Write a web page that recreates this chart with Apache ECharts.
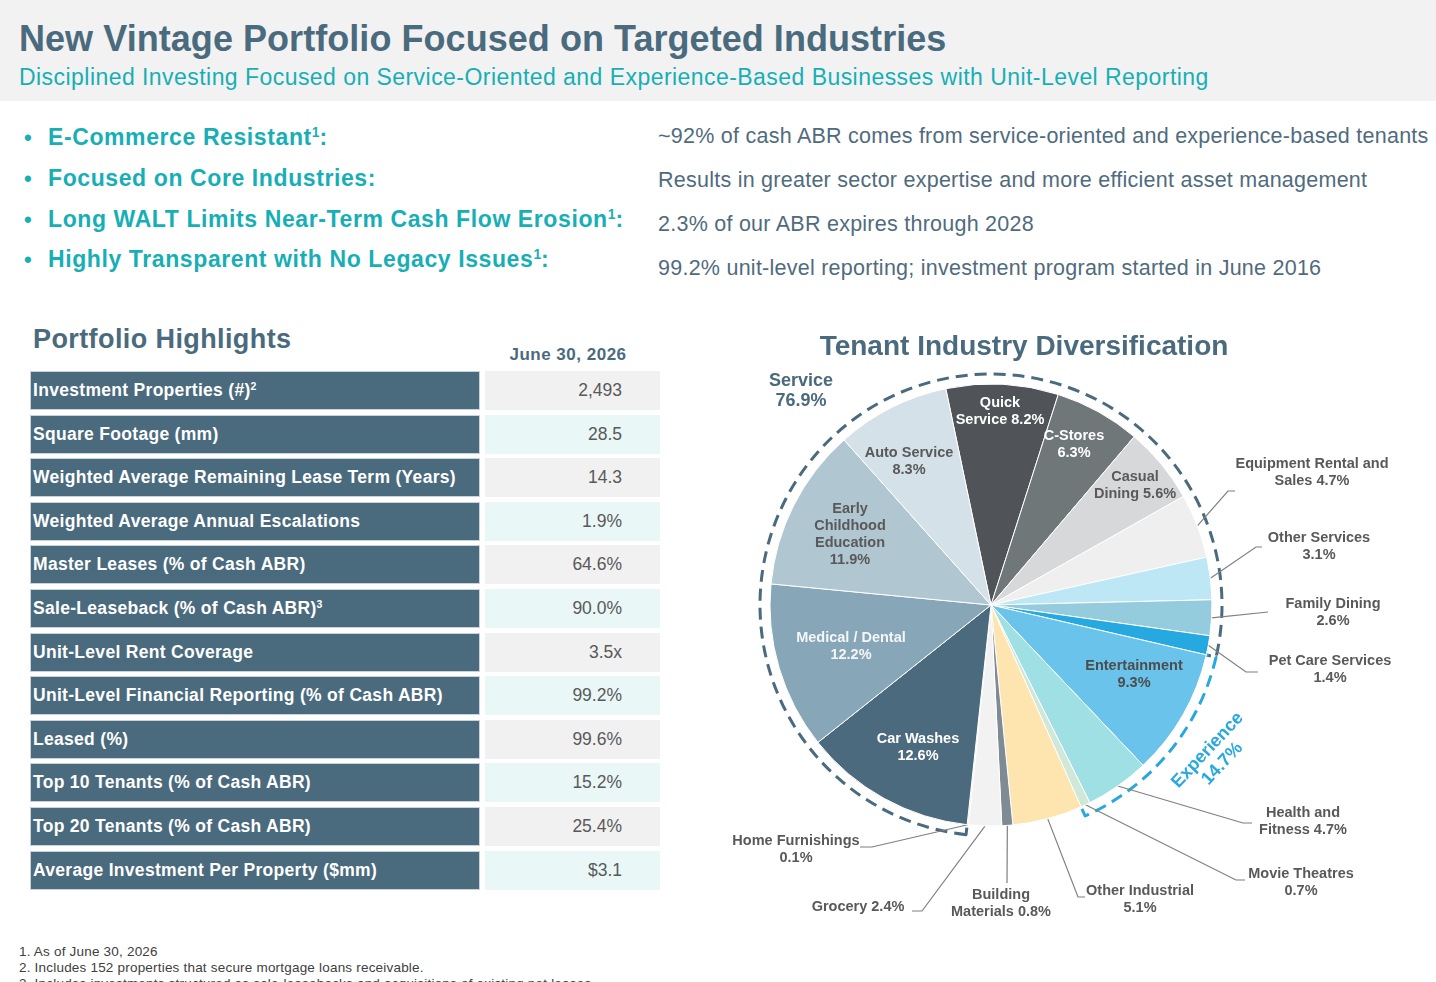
<!DOCTYPE html>
<html>
<head>
<meta charset="utf-8">
<script src="https://cdn.jsdelivr.net/npm/echarts@6/dist/echarts.min.js"></script>
<style>
  body { margin:0; width:1436px; height:982px; overflow:hidden; position:relative; background:#fff;
         font-family:"Liberation Sans", Arial, sans-serif; }
  .t { position:absolute; white-space:nowrap; line-height:1.15; }
  sup { font-size:0.6em; vertical-align:0.6em; line-height:0; letter-spacing:0; }
  #header { position:absolute; left:0; top:0; width:1436px; height:101px; background:#f2f2f2; }
  .cellL { position:absolute; left:30px; width:448px; height:37px; background:#4a6a7e; border:1px solid #c9d3d9; }
  .cellV { position:absolute; left:485px; width:175px; height:39px; }
  #chart { position:absolute; left:690px; top:310px; width:746px; height:640px; }
</style>
</head>
<body>
<div id="header"></div>
<div id="chart"></div>
<script>
// ---- texto do slide ----
const pageTitle = 'New Vintage Portfolio Focused on Targeted Industries';
const pageSubtitle = 'Disciplined Investing Focused on Service-Oriented and Experience-Based Businesses with Unit-Level Reporting';
const bulletHeads = ['E-Commerce Resistant<sup>1</sup>:', 'Focused on Core Industries:',
  'Long WALT Limits Near-Term Cash Flow Erosion<sup>1</sup>:', 'Highly Transparent with No Legacy Issues<sup>1</sup>:'];
const bulletTexts = ['~92% of cash ABR comes from service-oriented and experience-based tenants',
  'Results in greater sector expertise and more efficient asset management',
  '2.3% of our ABR expires through 2028',
  '99.2% unit-level reporting; investment program started in June 2016'];

// ---- tabela Portfolio Highlights ----
const highlightLabels = ['Investment Properties (#)<sup>2</sup>', 'Square Footage (mm)',
  'Weighted Average Remaining Lease Term (Years)', 'Weighted Average Annual Escalations',
  'Master Leases (% of Cash ABR)', 'Sale-Leaseback (% of Cash ABR)<sup>3</sup>', 'Unit-Level Rent Coverage',
  'Unit-Level Financial Reporting (% of Cash ABR)', 'Leased (%)', 'Top 10 Tenants (% of Cash ABR)',
  'Top 20 Tenants (% of Cash ABR)', 'Average Investment Per Property ($mm)'];
const highlightValues = ['2,493', '28.5', '14.3', '1.9%', '64.6%', '90.0%', '3.5x', '99.2%', '99.6%', '15.2%', '25.4%', '$3.1'];
const footnotes = ['1. As of June 30, 2026', '2. Includes 152 properties that secure mortgage loans receivable.',
  '3. Includes investments structured as sale-leasebacks and acquisitions of existing net leases.'];

// ---- pizza: setores em sentido horário a partir de Quick Service ----
const categories = ['Quick Service', 'C-Stores', 'Casual Dining', 'Equipment Rental and Sales', 'Other Services',
  'Family Dining', 'Pet Care Services', 'Entertainment', 'Health and Fitness', 'Movie Theatres',
  'Other Industrial', 'Building Materials', 'Grocery', 'Home Furnishings', 'Car Washes',
  'Medical / Dental', 'Early Childhood Education', 'Auto Service'];
const shares = [8.2, 6.3, 5.6, 4.7, 3.1, 2.6, 1.4, 9.3, 4.7, 0.7, 5.1, 0.8, 2.4, 0.1, 12.6, 12.2, 11.9, 8.3];
const sliceGroup = ['Service', 'Service', 'Service', 'Service', 'Service', 'Service', 'Service',
  'Experience', 'Experience', 'Experience', 'Other', 'Other', 'Other', 'Other',
  'Service', 'Service', 'Service', 'Service'];
// nome exibido (com quebra de linha) antes do valor
const labelNames = ['Quick\nService ', 'C-Stores\n', 'Casual\nDining ', 'Equipment Rental and\nSales ',
  'Other Services\n', 'Family Dining\n', 'Pet Care Services\n', 'Entertainment\n', 'Health and\nFitness ',
  'Movie Theatres\n', 'Other Industrial\n', 'Building\nMaterials ', 'Grocery ', 'Home Furnishings\n',
  'Car Washes\n', 'Medical / Dental\n', 'Early\nChildhood\nEducation\n', 'Auto Service\n'];

// cores
const sliceColors = ['#505358', '#6f7778', '#d7d8da', '#efefef', '#bee7f6', '#95ccdd', '#25a9e0', '#6ac3ea',
  '#9fe0e4', '#cfe8d8', '#fee4ae', '#7e8b94', '#f2f2f2', '#dde3e7', '#4b6a7e', '#87a6b7', '#b0c6d1', '#d4e1e8'];
const labelColors = ['#ffffff', '#ffffff', '#595959', '#595959', '#595959', '#595959', '#595959', '#4d4d4d',
  '#595959', '#595959', '#595959', '#595959', '#595959', '#595959', '#ffffff', '#f4f6f8', '#595959', '#595959'];
const groupColors = { Service: '#4a6a7e', Experience: '#29a8e0', Other: 'rgba(0,0,0,0)' };

const SLATE = '#4a6a7e', TEAL = '#17afb5';

// ---- posições (coordenadas da página) ----
const labelPos = {
  'Quick Service': [1000, 411], 'C-Stores': [1074, 444], 'Casual Dining': [1135, 485],
  'Equipment Rental and Sales': [1312, 472], 'Other Services': [1319, 546], 'Family Dining': [1333, 612],
  'Pet Care Services': [1330, 669], 'Entertainment': [1134, 674], 'Health and Fitness': [1303, 821],
  'Movie Theatres': [1301, 882], 'Other Industrial': [1140, 899], 'Building Materials': [1001, 903],
  'Grocery': [858, 907], 'Home Furnishings': [796, 849], 'Car Washes': [918, 747],
  'Medical / Dental': [851, 646], 'Early Childhood Education': [850, 534], 'Auto Service': [909, 461],
  'Service': [801, 391], 'Experience': [1215, 757]
};
// cotovelo e fim da linha guia
const leaderPts = {
  'Equipment Rental and Sales': [1228, 491, 1235, 491], 'Other Services': [1256, 547, 1262, 547],
  'Family Dining': [1268, 612, 1268, 612], 'Pet Care Services': [1246, 672, 1258, 672],
  'Health and Fitness': [1243, 823, 1252, 823], 'Movie Theatres': [1236, 880, 1245, 880],
  'Other Industrial': [1078, 897, 1085, 897], 'Building Materials': [1007, 883, 1007, 883],
  'Grocery': [922, 911, 912, 911], 'Home Furnishings': [872, 847, 860, 847]
};

// ==================== parte HTML ====================
function put(html, x, base, fs, css) {
  const d = document.createElement('div');
  d.className = 't';
  d.innerHTML = html;
  if (x != null) d.style.left = x + 'px';
  d.style.top = (base - 0.92 * fs) + 'px';
  d.style.fontSize = fs + 'px';
  if (css) Object.assign(d.style, css);
  document.body.appendChild(d);
  return d;
}

put(pageTitle, 19, 51, 36, { color: SLATE, fontWeight: 'bold', letterSpacing: '0.05px' });
put(pageSubtitle, 19, 85, 23, { color: TEAL, letterSpacing: '0.45px' });

const bulletBase = [145, 186, 227, 267];
const textBase = [144, 188, 232, 276];
bulletHeads.forEach((h, i) => {
  put('&bull;', 24, bulletBase[i], 22, { color: TEAL, fontWeight: 'bold' });
  put(h, 48, bulletBase[i], 23, { color: TEAL, fontWeight: 'bold', letterSpacing: '0.6px' });
  put(bulletTexts[i], 658, textBase[i], 21.5, { color: '#506b7e', letterSpacing: '0.25px' });
});

put('Portfolio Highlights', 33, 349, 27, { color: SLATE, fontWeight: 'bold', letterSpacing: '0.4px' });
put('June 30, 2026', 568, 361, 17, { color: SLATE, fontWeight: 'bold', letterSpacing: '0.5px', transform: 'translateX(-50%)' });

highlightLabels.forEach((lab, i) => {
  const top = 371 + 43.6 * i;
  const l = document.createElement('div');
  l.className = 'cellL'; l.style.top = top + 'px';
  document.body.appendChild(l);
  const v = document.createElement('div');
  v.className = 'cellV'; v.style.top = top + 'px';
  v.style.background = i % 2 === 0 ? '#f1f1f1' : '#eaf7f7';
  document.body.appendChild(v);
  put(lab, 33, top + 25, 17.5, { color: '#ffffff', fontWeight: 'bold', letterSpacing: '0.3px' });
  put(highlightValues[i], null, top + 25, 17.5, { color: '#595959', right: (1436 - 622) + 'px' });
});

footnotes.forEach((f, i) => put(f, 19, 956 + 16 * i, 13.5, { color: '#404040', letterSpacing: '0.2px' }));

// ==================== gráfico ====================
const OX = 690, OY = 310;
const CX = 991 - OX, CY = 605 - OY, R = 221, RING = 231;
const START = 101.8;
const total = shares.reduce((a, b) => a + b, 0);
const cumBefore = shares.map((v, i) => shares.slice(0, i).reduce((a, b) => a + b, 0));

function midAngle(i) {
  return START - (cumBefore[i] + shares[i] / 2) / total * 360;
}

// anel tracejado por grupo, começando no primeiro setor do grupo Service após a volta
const ringStartIdx = categories.indexOf('Car Washes');
const ringData = [];
for (let k = 0; k < shares.length; k++) {
  const idx = (ringStartIdx + k) % shares.length;
  const g = sliceGroup[idx];
  const last = ringData[ringData.length - 1];
  if (last && last.name === g) last.value += shares[idx];
  else ringData.push({ name: g, value: shares[idx] });
}
const ringStart = START - cumBefore[ringStartIdx] / total * 360;

const chart = echarts.init(document.getElementById('chart'));
const font = '"Liberation Sans", Arial, sans-serif';

chart.setOption({
  title: {
    text: 'Tenant Industry Diversification',
    left: 1024 - OX - 5, top: 18, textAlign: 'center',
    textStyle: { fontSize: 28, fontWeight: 'bold', color: SLATE, fontFamily: font }
  },
  series: [
    {
      type: 'pie', silent: true, z: 1,
      center: [CX, CY], radius: [150, RING],
      startAngle: ((ringStart % 360) + 360) % 360, clockwise: true,
      avoidLabelOverlap: false,
      data: ringData.map(d => ({
        name: d.name, value: d.value,
        itemStyle: { color: 'rgba(0,0,0,0)', borderColor: groupColors[d.name], borderWidth: 3, borderType: [12, 7] },
        label: {
          show: d.name !== 'Other',
          color: groupColors[d.name],
          rotate: d.name === 'Experience' ? 47 : 0,
          fontSize: 18
        }
      })),
      label: {
        position: 'outside', fontFamily: font, fontWeight: 'bold', lineHeight: 20,
        formatter: p => p.name + '\n' + p.value.toFixed(1) + '%'
      },
      labelLine: { show: false },
      labelLayout: p => {
        const pos = labelPos[ringData[p.dataIndex].name];
        if (!pos) return {};
        return { x: pos[0] - OX, y: pos[1] - OY, align: 'center', verticalAlign: 'middle' };
      }
    },
    {
      type: 'pie', silent: true, z: 2,
      center: [CX, CY], radius: [0, R],
      startAngle: START, clockwise: true,
      avoidLabelOverlap: false,
      itemStyle: { borderColor: '#ffffff', borderWidth: 1 },
      data: shares.map((v, i) => ({
        name: categories[i], value: v,
        itemStyle: { color: sliceColors[i] },
        label: { position: leaderPts[categories[i]] ? 'outside' : 'inside', color: labelColors[i] },
        labelLine: { show: !!leaderPts[categories[i]] }
      })),
      label: {
        fontFamily: font, fontSize: 14.5, fontWeight: 'bold', lineHeight: 17,
        formatter: p => labelNames[p.dataIndex] + p.value.toFixed(1) + '%'
      },
      labelLine: { lineStyle: { color: '#7f7f7f', width: 1.2 } },
      labelLayout: p => {
        const name = categories[p.dataIndex];
        const pos = labelPos[name];
        if (!pos) return {};
        const out = { x: pos[0] - OX, y: pos[1] - OY, align: 'center', verticalAlign: 'middle' };
        const lead = leaderPts[name];
        if (lead) {
          const a = midAngle(p.dataIndex) * Math.PI / 180;
          out.labelLinePoints = [
            [CX + R * Math.cos(a), CY - R * Math.sin(a)],
            [lead[0] - OX, lead[1] - OY],
            [lead[2] - OX, lead[3] - OY]
          ];
        }
        return out;
      }
    }
  ]
});
</script>
</body>
</html>
